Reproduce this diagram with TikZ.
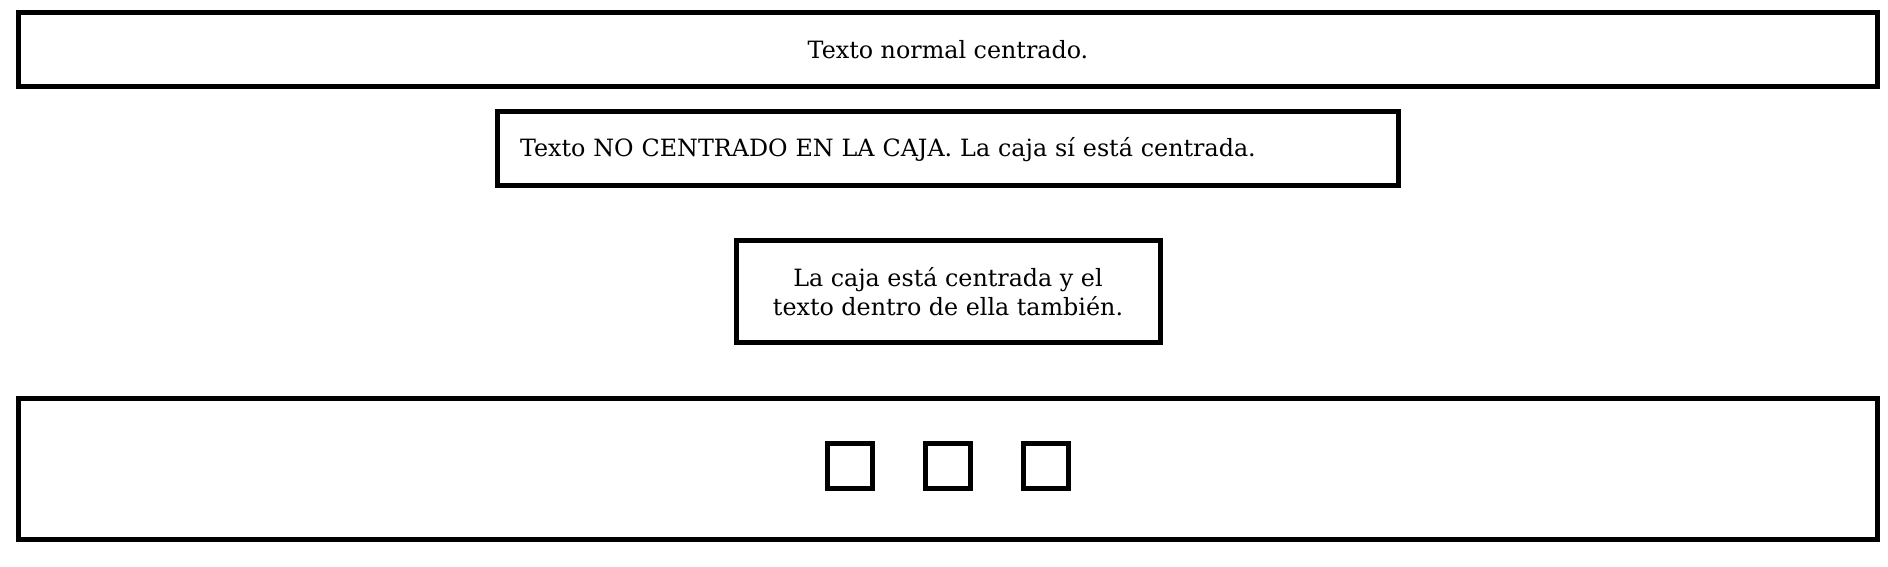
\documentclass[tikz,border=0pt]{standalone}
\usepackage{fontspec}
\setmainfont{DejaVu Serif}
\begin{document}
\begin{tikzpicture}[x=1pt,y=-1pt,
  box/.style={draw=black, line width=5pt, inner sep=0pt, font=\fontsize{23.8}{29}\selectfont},
  sq/.style={draw=black, line width=5pt, inner sep=0pt, minimum width=45pt, minimum height=45pt}]
\useasboundingbox (0,0) rectangle (1888,567);
\node[box, minimum width=1859pt, minimum height=74pt] (top) at (948,49.5) {Texto normal centrado.};
\node[box, minimum width=901pt, minimum height=74pt, text width=856pt, inner xsep=22.5pt, align=left, text height=17pt, text depth=0.6pt] (mid) at (948,148.5) {Texto NO CENTRADO EN LA CAJA. La caja sí está centrada.};
\node[box, minimum width=424pt, minimum height=102pt, align=center] (cen) at (948,291.5) {La caja está centrada y el\\texto dentro de ella también.};
\node[box, minimum width=1859pt, minimum height=141pt] (bot) at (948,469) {};
\node[sq] (s1) at (850,466) {};
\node[sq] (s2) at (948,466) {};
\node[sq] (s3) at (1046,466) {};
\end{tikzpicture}
\end{document}
